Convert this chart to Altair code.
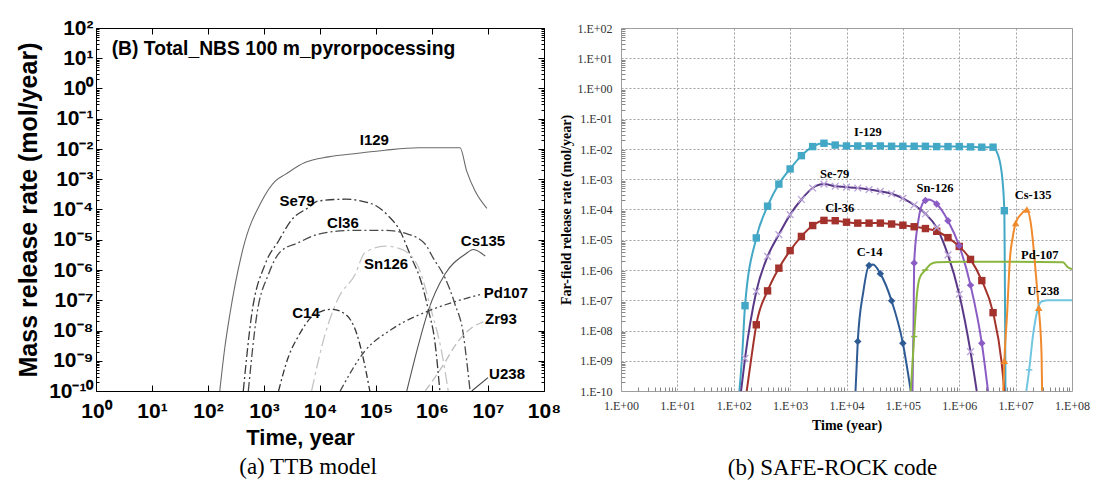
import altair as alt
import pandas as pd

# ================= (a) TTB model : log10(time, yr) / log10(rate, mol/yr) =================
ttb_names = ["I129", "Se79", "Cl36", "Sn126", "C14", "Pd107", "Zr93", "Cs135", "U238"]

ttb_i129_lt = [2.21, 2.30, 2.39, 2.63, 2.96, 3.20, 3.38, 3.73, 4.15, 4.68, 5.16, 5.76, 6.50, 6.62, 6.77, 6.98]
ttb_i129_lv = [-10, -8.57, -7.47, -5.26, -3.72, -3.06, -2.84, -2.45, -2.26, -2.14, -2.04, -1.96, -1.96, -2.73, -3.39, -3.96]
ttb_se79_lt = [2.63, 2.78, 3.02, 3.26, 3.49, 3.79, 3.97, 4.45, 4.92, 5.22, 5.43, 5.61, 5.82, 5.94, 6.05, 6.14]
ttb_se79_lv = [-10, -7.47, -5.81, -5.04, -4.35, -3.94, -3.72, -3.66, -3.81, -4.21, -4.71, -5.50, -6.47, -7.36, -8.35, -10]
ttb_cl36_lt = [2.72, 2.87, 3.08, 3.29, 3.61, 3.97, 4.57, 5.16, 5.58, 5.88, 6.02, 6.23, 6.41, 6.56, 6.62, 6.68]
ttb_cl36_lv = [-10, -7.50, -6.14, -5.40, -5.10, -4.82, -4.69, -4.69, -4.82, -5.15, -5.60, -6.25, -7.13, -8.13, -9.01, -10]
ttb_sn126_lt = [3.85, 4.09, 4.33, 4.63, 4.80, 5.16, 5.46, 5.76, 5.99, 6.17, 6.29]
ttb_sn126_lv = [-10, -8.13, -6.92, -6.14, -5.43, -5.21, -5.32, -5.92, -7.36, -8.68, -10]
ttb_c14_lt = [3.26, 3.43, 3.61, 3.85, 4.05, 4.21, 4.45, 4.66, 4.77, 4.89]
ttb_c14_lv = [-10, -8.90, -8.20, -7.55, -7.35, -7.30, -7.46, -8.13, -8.90, -10]
ttb_pd107_lt = [4.36, 4.80, 5.28, 5.93, 6.35, 6.89]
ttb_pd107_lv = [-10, -8.68, -7.96, -7.36, -7.08, -6.80]
ttb_zr93_lt = [5.88, 6.17, 6.47, 6.71, 6.95]
ttb_zr93_lv = [-10, -9.23, -8.35, -7.91, -7.69]
ttb_cs135_lt = [5.55, 5.76, 5.93, 6.23, 6.59, 6.74, 6.95]
ttb_cs135_lv = [-10, -8.46, -7.36, -6.14, -5.48, -5.32, -5.54]
ttb_u238_lt = [6.71, 7.00]
ttb_u238_lv = [-10, -9.56]

ttb_colors = ["#6a6a6a", "#3a3a3a", "#4a4a4a", "#c4c4c4", "#333333", "#444444", "#bdbdbd", "#555555", "#404040"]
ttb_dashes = [[1, 0], [9, 3, 2, 3], [9, 3, 2, 3], [12, 4, 3, 4], [7, 3, 2, 3], [7, 3, 2, 3, 2, 3], [8, 4], [1, 0], [1, 0]]
ttb_solid = ["I129", "Cs135", "U238"]

ttb_label_text = ["I129", "Se79", "Cl36", "Sn126", "C14", "Cs135", "Pd107", "Zr93", "U238"]
ttb_label_lt = [4.97, 3.59, 4.41, 5.18, 3.75, 6.91, 7.32, 7.23, 7.34]
ttb_label_lv = [-1.70, -3.72, -4.44, -5.81, -7.41, -5.04, -6.75, -7.63, -9.45]

ttb_title = "(B) Total_NBS 100 m_pyrorpocessing"
ttb_title_lt = [0.28]
ttb_title_lv = [1.31]

left_x_exp = [0, 1, 2, 3, 4, 5, 6, 7, 8]
left_x_labels = ["10⁰", "10¹", "10²", "10³", "10⁴", "10⁵", "10⁶", "10⁷", "10⁸"]
left_y_exp = [-10, -9, -8, -7, -6, -5, -4, -3, -2, -1, 0, 1, 2]
left_y_labels = ["10⁻¹⁰", "10⁻⁹", "10⁻⁸", "10⁻⁷", "10⁻⁶", "10⁻⁵", "10⁻⁴", "10⁻³",
                 "10⁻²", "10⁻¹", "10⁰", "10¹", "10²"]

# ================= (b) SAFE-ROCK code =================
sr_names = ["I-129", "Se-79", "Cl-36", "Sn-126", "C-14", "Pd-107", "Cs-135", "U-238"]

sr_i129_lt = [2.10, 2.15, 2.2, 2.4, 2.6, 2.8, 3.0, 3.2, 3.4, 3.6, 3.8, 4.0, 4.2, 4.4, 4.6, 4.8, 5.0,
              5.2, 5.4, 5.6, 5.8, 6.0, 6.2, 6.4, 6.6, 6.66, 6.75, 6.8, 6.81, 6.82]
sr_i129_lv = [-10, -8.8, -7.18, -4.94, -3.89, -3.16, -2.66, -2.22, -1.92, -1.81, -1.87, -1.90, -1.90, -1.90,
              -1.90, -1.91, -1.91, -1.91, -1.91, -1.92, -1.92, -1.92, -1.93, -1.94, -1.94, -2.07, -2.74,
              -4.04, -6.6, -10]
sr_i129_mk = [0, 0] + [1] * 23 + [0, 0, 1, 0, 0]

sr_se79_lt = [2.13, 2.2, 2.4, 2.6, 2.8, 3.0, 3.2, 3.4, 3.6, 3.8, 4.0, 4.2, 4.4, 4.6, 4.8, 5.0, 5.2, 5.4,
              5.6, 5.8, 6.0, 6.2, 6.31]
sr_se79_lv = [-10, -8.92, -6.71, -5.55, -4.83, -4.17, -3.67, -3.29, -3.16, -3.23, -3.26, -3.29, -3.34,
              -3.40, -3.48, -3.63, -3.85, -4.14, -4.60, -5.50, -6.80, -8.70, -10]
sr_se79_mk = [0] + [1] * 21 + [0]

sr_cl36_lt = [2.23, 2.32, 2.4, 2.6, 2.8, 3.0, 3.2, 3.4, 3.6, 3.8, 4.0, 4.2, 4.4, 4.6, 4.8, 5.0, 5.2, 5.4,
              5.6, 5.8, 6.0, 6.2, 6.4, 6.6, 6.75, 6.80]
sr_cl36_lv = [-10, -8.8, -7.81, -6.69, -5.94, -5.36, -4.89, -4.53, -4.36, -4.37, -4.42, -4.45, -4.45,
              -4.45, -4.48, -4.52, -4.57, -4.63, -4.72, -4.93, -5.22, -5.65, -6.35, -7.41, -9.03, -10]
sr_cl36_mk = [0, 0] + [1] * 22 + [0, 0]

sr_sn126_lt = [5.17, 5.19, 5.2, 5.28, 5.35, 5.4, 5.45, 5.6, 5.8, 6.0, 6.2, 6.4, 6.51]
sr_sn126_lv = [-10, -7.7, -5.77, -4.3, -3.8, -3.70, -3.67, -3.82, -4.37, -5.20, -6.50, -8.42, -10]
sr_sn126_mk = [0, 0, 1, 0, 0, 1, 0, 1, 1, 1, 1, 1, 0]

sr_c14_lt = [4.16, 4.2, 4.3, 4.4, 4.47, 4.6, 4.8, 5.0, 5.14]
sr_c14_lv = [-10, -8.36, -6.7, -5.85, -5.82, -6.12, -7.02, -8.42, -10]
sr_c14_mk = [0, 1, 0, 1, 0, 1, 1, 1, 0]

sr_pd107_lt = [5.14, 5.2, 5.25, 5.3, 5.4, 5.5, 5.6, 6.0, 7.0, 7.84, 7.92, 8.0]
sr_pd107_lv = [-10, -8.2, -6.8, -6.25, -6.0, -5.8, -5.74, -5.73, -5.73, -5.74, -5.90, -5.97]
sr_pd107_mk = [0, 1, 0, 0, 1, 0, 0, 0, 0, 0, 0, 0]

sr_cs135_lt = [6.78, 6.8, 6.85, 6.9, 6.95, 7.0, 7.1, 7.2, 7.28, 7.34, 7.38, 7.41, 7.46, 7.47]
sr_cs135_lv = [-10, -9.0, -7.4, -5.6, -4.9, -4.45, -4.15, -4.0, -4.6, -5.72, -6.6, -7.25, -8.8, -10]
sr_cs135_mk = [0, 1, 0, 0, 0, 1, 0, 1, 0, 0, 0, 1, 0, 0]

sr_u238_lt = [7.19, 7.24, 7.31, 7.39, 7.46, 7.6, 8.0]
sr_u238_lv = [-10, -9.3, -8.14, -7.31, -7.04, -7.0, -7.0]
sr_u238_mk = [0, 1, 0, 0, 0, 0, 0]

sr_colors = ["#43a7c6", "#5a3888", "#a3322c", "#8a5cc4", "#2f5b95", "#8ab63f", "#f08a2c", "#72c6e2"]
sr_shapes = ["square", "square", "square", "diamond", "diamond", "square", "triangle-up", "square"]

sr_label_text = ["I-129", "Se-79", "Cl-36", "Sn-126", "C-14", "Cs-135", "Pd-107", "U-238"]
sr_label_lt = [4.38, 3.79, 3.88, 5.57, 4.41, 7.31, 7.43, 7.49]
sr_label_lv = [-1.43, -2.82, -3.95, -3.29, -5.41, -3.53, -5.49, -6.69]

right_x_exp = [0, 1, 2, 3, 4, 5, 6, 7, 8]
right_x_labels = ["1.E+00", "1.E+01", "1.E+02", "1.E+03", "1.E+04", "1.E+05", "1.E+06", "1.E+07", "1.E+08"]
right_y_exp = [-10, -9, -8, -7, -6, -5, -4, -3, -2, -1, 0, 1, 2]
right_y_labels = ["1.E-10", "1.E-09", "1.E-08", "1.E-07", "1.E-06", "1.E-05", "1.E-04", "1.E-03",
                  "1.E-02", "1.E-01", "1.E+00", "1.E+01", "1.E+02"]

captions = ["(a) TTB model", "(b) SAFE-ROCK code"]


# ---------------------------------------------------------------------------------------
def frame(names, lts, lvs, mks=None):
    rows = []
    for i, (n, lt, lv) in enumerate(zip(names, lts, lvs)):
        mk = mks[i] if mks is not None else [0] * len(lt)
        for k, (a, b, m) in enumerate(zip(lt, lv, mk)):
            rows.append({"series": n, "t": 10 ** a, "v": 10 ** b, "order": k, "marker": m})
    return pd.DataFrame(rows)


def ticks_expr(exps, labels):
    s = ""
    for e, lab in zip(exps, labels):
        s += f"abs(log(datum.value)/LN10 - ({e})) < 0.01 ? '{lab}' : "
    return s + "''"


def minors(lo, hi):
    return [m * 10.0 ** k for k in range(lo, hi) for m in range(2, 10)]


def in_list(names):
    return "indexof([" + ",".join(f"'{n}'" for n in names) + "], datum.series) >= 0"


ttb_df = frame(ttb_names,
               [ttb_i129_lt, ttb_se79_lt, ttb_cl36_lt, ttb_sn126_lt, ttb_c14_lt, ttb_pd107_lt,
                ttb_zr93_lt, ttb_cs135_lt, ttb_u238_lt],
               [ttb_i129_lv, ttb_se79_lv, ttb_cl36_lv, ttb_sn126_lv, ttb_c14_lv, ttb_pd107_lv,
                ttb_zr93_lv, ttb_cs135_lv, ttb_u238_lv])
ttb_lab_df = pd.DataFrame({"text": ttb_label_text, "t": [10 ** a for a in ttb_label_lt],
                           "v": [10 ** b for b in ttb_label_lv]})
ttb_title_df = pd.DataFrame({"text": [ttb_title], "t": [10 ** a for a in ttb_title_lt],
                             "v": [10 ** b for b in ttb_title_lv]})

sr_df = frame(sr_names,
              [sr_i129_lt, sr_se79_lt, sr_cl36_lt, sr_sn126_lt, sr_c14_lt, sr_pd107_lt, sr_cs135_lt, sr_u238_lt],
              [sr_i129_lv, sr_se79_lv, sr_cl36_lv, sr_sn126_lv, sr_c14_lv, sr_pd107_lv, sr_cs135_lv, sr_u238_lv],
              [sr_i129_mk, sr_se79_mk, sr_cl36_mk, sr_sn126_mk, sr_c14_mk, sr_pd107_mk, sr_cs135_mk, sr_u238_mk])
sr_lab_df = pd.DataFrame({"text": sr_label_text, "t": [10 ** a for a in sr_label_lt],
                          "v": [10 ** b for b in sr_label_lv]})

SANS = "Liberation Sans"
SERIF = "Liberation Serif"
L_W, L_H = 448, 363
R_W, R_H = 451, 363

xs_l = alt.Scale(type="log", domain=[1, 1e8], nice=False)
ys_l = alt.Scale(type="log", domain=[1e-10, 1e2], nice=False)
left_x_vals = [10.0 ** e for e in left_x_exp]
left_y_vals = [10.0 ** e for e in left_y_exp]


def ax(**kw):
    base = dict(grid=False, domain=False, labelOverlap=False, labelFlush=False)
    base.update(kw)
    return alt.Axis(**base)


def bare(orient, values, size, color="black"):
    return ax(orient=orient, values=values, labels=False, title=None, offset=-size, tickSize=size,
              tickColor=color, tickWidth=1)


x_main_l = ax(orient="bottom", values=left_x_vals, labelExpr=ticks_expr(left_x_exp, left_x_labels),
              offset=-6, tickSize=6, tickColor="black", labelFont=SANS, labelFontWeight="bold",
              labelFontSize=21, labelColor="black", labelPadding=9, title="Time, year",
              titleFont=SANS, titleFontWeight="bold", titleFontSize=22, titleColor="black", titlePadding=6,
              titleX=L_W / 2 - 20)
y_main_l = ax(orient="left", values=left_y_vals, labelExpr=ticks_expr(left_y_exp, left_y_labels),
              offset=-6, tickSize=6, tickColor="black", labelFont=SANS, labelFontWeight="bold",
              labelFontSize=21, labelColor="black", labelPadding=3, title="Mass release rate (mol/year)",
              titleFont=SANS, titleFontWeight="bold", titleFontSize=25, titleColor="black", titlePadding=7)

color_l = alt.Color("series:N", scale=alt.Scale(domain=ttb_names, range=ttb_colors), legend=None)
dash_l = alt.StrokeDash("series:N", scale=alt.Scale(domain=ttb_names, range=ttb_dashes), legend=None)

solid_lines = alt.Chart(ttb_df).transform_filter(in_list(ttb_solid)).mark_line(
    strokeWidth=1.1, interpolate="monotone", clip=True
).encode(
    x=alt.X("t:Q", scale=xs_l, axis=x_main_l),
    y=alt.Y("v:Q", scale=ys_l, axis=y_main_l),
    color=color_l, detail="series:N", order="order:Q",
)
dash_lines = alt.Chart(ttb_df).transform_filter("!(" + in_list(ttb_solid) + ")").mark_line(
    strokeWidth=1.3, interpolate="monotone", clip=True
).encode(
    x=alt.X("t:Q", scale=xs_l, axis=bare("top", left_x_vals, 6)),
    y=alt.Y("v:Q", scale=ys_l, axis=bare("right", left_y_vals, 6)),
    color=color_l, strokeDash=dash_l, detail="series:N", order="order:Q",
)
ttb_labels = alt.Chart(ttb_lab_df).mark_text(font=SANS, fontWeight="bold", fontSize=15, color="black").encode(
    x=alt.X("t:Q", scale=xs_l, axis=None),
    y=alt.Y("v:Q", scale=ys_l, axis=bare("left", minors(-10, 2), 3)),
    text="text:N",
)
ttb_head = alt.Chart(ttb_title_df).mark_text(font=SANS, fontWeight="bold", fontSize=19.3, color="black",
                                             align="left", baseline="middle").encode(
    x=alt.X("t:Q", scale=xs_l, axis=None),
    y=alt.Y("v:Q", scale=ys_l, axis=bare("right", minors(-10, 2), 3)),
    text="text:N",
)
left = alt.layer(solid_lines, dash_lines, ttb_labels, ttb_head).resolve_axis(
    x="independent", y="independent"
).properties(
    width=L_W, height=L_H,
    view=alt.ViewBackground(stroke="black", strokeWidth=1, fill="white"),
    title=alt.TitleParams(captions[0], orient="bottom", anchor="middle", frame="group", font=SERIF,
                          fontSize=23, fontWeight="normal", color="black", offset=8, dx=-12),
)

# ---------------- right panel ----------------
xs_r = alt.Scale(type="log", domain=[1, 1e8], nice=False)
ys_r = alt.Scale(type="log", domain=[1e-10, 1e2], nice=False)
right_x_vals = [10.0 ** e for e in right_x_exp]
right_y_vals = [10.0 ** e for e in right_y_exp]

x_main_r = ax(orient="bottom", values=right_x_vals, labelExpr=ticks_expr(right_x_exp, right_x_labels),
              ticks=False, grid=True, gridColor="#a0a0a0", gridDash=[2, 2], gridWidth=1,
              labelFont=SERIF, labelFontSize=12, labelColor="#333333", labelPadding=9,
              title="Time (year)", titleFont=SERIF, titleFontWeight="bold", titleFontSize=14,
              titleColor="black", titlePadding=7)
y_main_r = ax(orient="left", values=right_y_vals, labelExpr=ticks_expr(right_y_exp, right_y_labels),
              ticks=False, grid=True, gridColor="#a0a0a0", gridDash=[2, 2], gridWidth=1,
              labelFont=SERIF, labelFontSize=12, labelColor="#333333", labelPadding=9,
              title="Far-field release rate (mol/year)", titleFont=SERIF, titleFontWeight="bold",
              titleFontSize=14, titleColor="black", titlePadding=3)

color_r = alt.Color("series:N", scale=alt.Scale(domain=sr_names, range=sr_colors), legend=None)

sr_lines = alt.Chart(sr_df).mark_line(strokeWidth=2, interpolate="monotone", clip=True).encode(
    x=alt.X("t:Q", scale=xs_r, axis=x_main_r),
    y=alt.Y("v:Q", scale=ys_r, axis=y_main_r),
    color=color_r, detail="series:N", order="order:Q",
)
filled_names = ["I-129", "Cl-36", "Sn-126", "C-14", "Cs-135"]
sr_filled = alt.Chart(sr_df).transform_filter(
    "datum.marker == 1 && " + in_list(filled_names)
).mark_point(filled=True, opacity=1, size=55, clip=True).encode(
    x=alt.X("t:Q", scale=xs_r, axis=bare("bottom", minors(0, 8), 4, "#888888")),
    y=alt.Y("v:Q", scale=ys_r, axis=bare("left", minors(-10, 2), 4, "#888888")),
    color=color_r,
    shape=alt.Shape("series:N", scale=alt.Scale(domain=sr_names, range=sr_shapes), legend=None),
)
sr_cross = alt.Chart(sr_df).transform_filter(
    "datum.marker == 1 && datum.series == 'Se-79'"
).mark_point(shape="M-1,-1L1,1M-1,1L1,-1", filled=False, size=45, strokeWidth=1.3, color="#b8a2d6",
             opacity=1, clip=True).encode(
    x=alt.X("t:Q", scale=xs_r, axis=None),
    y=alt.Y("v:Q", scale=ys_r, axis=None),
)
sr_dashmk = alt.Chart(sr_df).transform_filter(
    "datum.marker == 1 && " + in_list(["Pd-107", "U-238"])
).mark_point(shape="M-1,0L1,0", filled=False, size=40, strokeWidth=1.5, opacity=1, clip=True).encode(
    x=alt.X("t:Q", scale=xs_r, axis=None),
    y=alt.Y("v:Q", scale=ys_r, axis=None),
    color=color_r,
)
sr_labels = alt.Chart(sr_lab_df).mark_text(font=SERIF, fontWeight="bold", fontSize=12.5, color="black").encode(
    x=alt.X("t:Q", scale=xs_r, axis=None),
    y=alt.Y("v:Q", scale=ys_r, axis=None),
    text="text:N",
)
right = alt.layer(sr_lines, sr_filled, sr_cross, sr_dashmk, sr_labels).resolve_axis(
    x="independent", y="independent"
).properties(
    width=R_W, height=R_H,
    view=alt.ViewBackground(stroke="#9a9a9a", strokeWidth=1, fill="white"),
    title=alt.TitleParams(captions[1], orient="bottom", anchor="middle", frame="group", font=SERIF,
                          fontSize=23, fontWeight="normal", color="black", offset=25, dx=-14),
)

chart = alt.hconcat(left, right, spacing=77, bounds="flush").resolve_scale(
    color="independent", strokeDash="independent", shape="independent"
).properties(
    padding={"left": 8, "top": 8, "right": 0, "bottom": 0},
    background="white",
)
chart.save("out.html", embed_options={"renderer": "svg", "actions": False})
